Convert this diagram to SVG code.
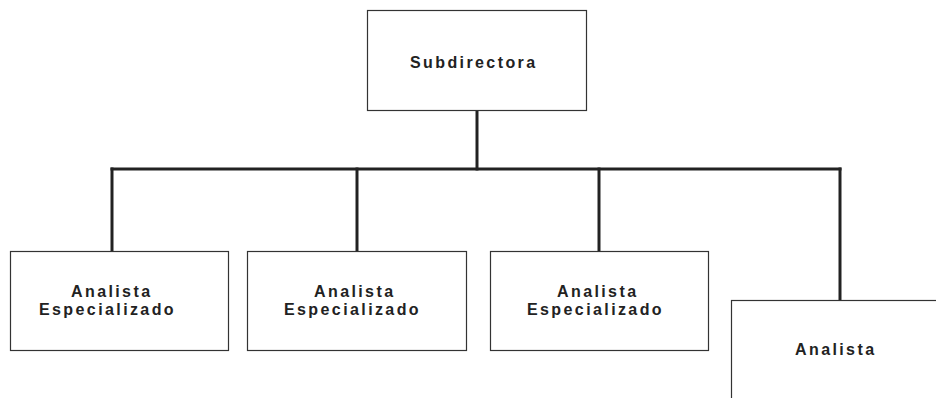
<svg xmlns="http://www.w3.org/2000/svg" width="936" height="398" viewBox="0 0 936 398">
<style>
.box{fill:#fff;stroke:#333;stroke-width:1.2}
.lbl{font-family:"Liberation Sans",Arial,sans-serif;font-weight:bold;font-size:16px;letter-spacing:2.4px;fill:#222}
.con{fill:none;stroke:#222;stroke-width:3;stroke-linecap:square}
</style>
<rect width="936" height="398" fill="#fff"/>
<g id="connectors">
<path class="con" d="M477,110 V169"/>
<path class="con" d="M112,169 H840"/>
<path class="con" d="M112,169 V251"/>
<path class="con" d="M357,169 V251"/>
<path class="con" d="M599,169 V251"/>
<path class="con" d="M840,169 V300"/>
</g>
<g id="subdirectora">
<rect class="box" x="367.5" y="10.5" width="219" height="100"/>
<text class="lbl" x="410" y="68">Subdirectora</text>
</g>
<g id="analista-esp-1">
<rect class="box" x="10.5" y="251.5" width="218" height="99"/>
<text class="lbl" x="71" y="297">Analista</text>
<text class="lbl" x="39" y="315">Especializado</text>
</g>
<g id="analista-esp-2">
<rect class="box" x="247.5" y="251.5" width="219" height="99"/>
<text class="lbl" x="314" y="297">Analista</text>
<text class="lbl" x="284" y="315">Especializado</text>
</g>
<g id="analista-esp-3">
<rect class="box" x="490.5" y="251.5" width="218" height="99"/>
<text class="lbl" x="557" y="297">Analista</text>
<text class="lbl" x="527" y="315">Especializado</text>
</g>
<g id="analista">
<rect class="box" x="731.5" y="300.5" width="300" height="200"/>
<text class="lbl" x="795" y="355">Analista</text>
</g>
</svg>
